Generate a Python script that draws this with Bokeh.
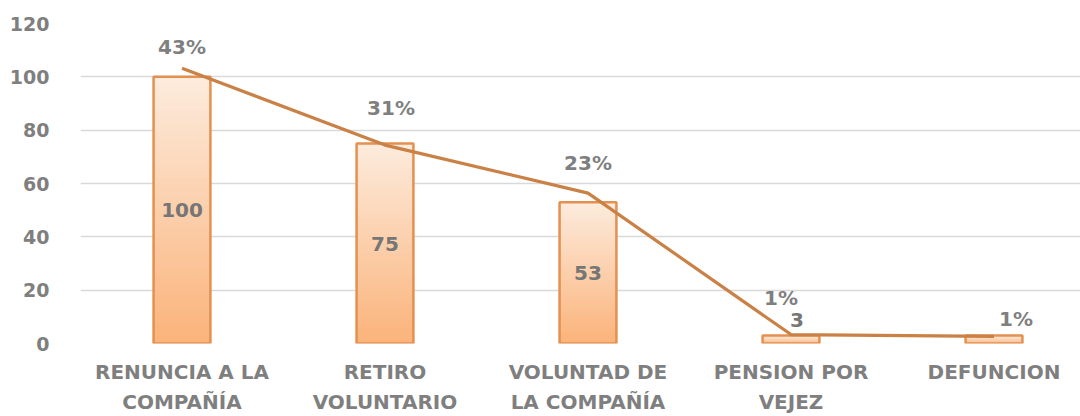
import numpy as np
from bokeh.plotting import figure
from bokeh.models import ColumnDataSource, Range1d, FixedTicker
from bokeh.core.properties import value
from bokeh.embed import file_html
from bokeh.resources import INLINE

categories = ["RENUNCIA A LA\nCOMPAÑÍA", "RETIRO\nVOLUNTARIO", "VOLUNTAD DE\nLA COMPAÑÍA",
              "PENSION POR\nVEJEZ", "DEFUNCION"]
counts = [100, 75, 53, 3, 3]
pct_line = [43.0, 31.0, 23.5, 1.4, 1.1]
pct_labels = ["43%", "31%", "23%", "1%", "1%"]
count_labels = ["100", "75", "53", "3", ""]
y_ticks = [0, 20, 40, 60, 80, 100, 120]

FONT = "DejaVu Sans"
GRAY = "#7f7f7f"
xs = list(range(1, len(categories) + 1))

p = figure(width=1080, height=416, output_backend="svg", toolbar_location=None,
           x_range=Range1d(0.5, 0.5 + 1000 / 203), y_range=Range1d(0, 120),
           min_border_left=80, min_border_right=0, min_border_top=23, min_border_bottom=72)
p.extra_y_ranges = {"pct": Range1d(0, 50)}
p.outline_line_color = None
p.background_fill_color = "white"

# gradient bars (thin overlapping slices)
N = 40
top_c = np.array([253, 235, 220])
bot_c = np.array([251, 180, 124])
sx, sb, st, sc = [], [], [], []
for x, v in zip(xs, counts):
    for k in range(N):
        t = k / (N - 1)
        c = (bot_c * (1 - t) + top_c * t).astype(int)
        sx.append(x)
        sb.append(v * k / N)
        st.append(min(v, v * (k + 1.8) / N))
        sc.append("#%02x%02x%02x" % tuple(c))
p.vbar(x=sx, bottom=sb, top=st, width=0.28, fill_color=sc, line_color=None)
p.vbar(x=xs, top=counts, width=0.28, fill_alpha=0, line_color="#e39050", line_width=2.5)

# line on secondary (hidden) scale
p.line(xs, pct_line, y_range_name="pct", line_color="#c98145", line_width=3.2)

# percentage labels
pct_src = ColumnDataSource(dict(x=xs, y=pct_line, t=pct_labels,
                                xo=[0, 6, 0, -10, 22], yo=[-21, -37, -30, -37, -17]))
p.text(x="x", y="y", text="t", x_offset="xo", y_offset="yo", source=pct_src,
       y_range_name="pct", text_font=value(FONT), text_font_style="bold",
       text_font_size="20px", text_color=GRAY, text_align="center", text_baseline="middle")

# count labels
cnt_src = ColumnDataSource(dict(x=xs, y=[c / 2 for c in counts], t=count_labels,
                                xo=[0, 0, 0, 6, 0], yo=[0, 0, 0, -20, 0]))
p.text(x="x", y="y", text="t", x_offset="xo", y_offset="yo", source=cnt_src,
       text_font=value(FONT), text_font_style="bold",
       text_font_size="20px", text_color="#767676", text_align="center", text_baseline="middle")

# axes
p.yaxis.ticker = FixedTicker(ticks=y_ticks)
p.yaxis.axis_line_color = None
p.yaxis.major_tick_line_color = None
p.yaxis.minor_tick_line_color = None
p.yaxis.major_label_text_font = FONT
p.yaxis.major_label_text_font_style = "bold"
p.yaxis.major_label_text_font_size = "19px"
p.yaxis.major_label_text_color = GRAY
p.yaxis.major_label_standoff = 25

p.xaxis.ticker = FixedTicker(ticks=xs)
p.xaxis.major_label_overrides = {x: c for x, c in zip(xs, categories)}
p.xaxis.axis_line_color = None
p.xaxis.major_tick_line_color = None
p.xaxis.minor_tick_line_color = None
p.xaxis.major_tick_out = 0
p.xaxis.major_tick_in = 0
p.xaxis.major_label_text_font = FONT
p.xaxis.major_label_text_font_style = "bold"
p.xaxis.major_label_text_font_size = "20px"
p.xaxis.major_label_text_color = GRAY
p.xaxis.major_label_text_line_height = 1.25
p.xaxis.major_label_standoff = 16

p.xgrid.grid_line_color = None
p.ygrid.ticker = FixedTicker(ticks=y_ticks)
p.ygrid.grid_line_color = "#d9d9d9"
p.ygrid.grid_line_width = 1.5

open("out.html", "w").write(file_html(p, INLINE))
